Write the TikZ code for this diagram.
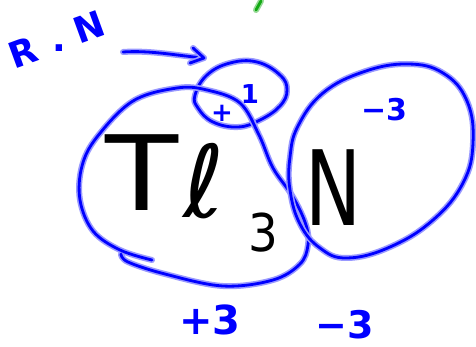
\documentclass[tikz,border=0pt]{standalone}
\usepackage{fontspec}
\setmainfont{DejaVu Sans}
\definecolor{inkblue}{RGB}{0,0,255}
\definecolor{inkgreen}{RGB}{20,170,20}
\begin{document}
\begin{tikzpicture}[x=1pt,y=-1pt,
  ink/.style={draw=inkblue, line width=2.8pt, line cap=round, line join=round,
    preaction={draw=inkblue!40, line width=6pt, line cap=round, line join=round}},
  greenink/.style={draw=inkgreen, line width=2.8pt, line cap=round,
    preaction={draw=inkgreen!45, line width=6pt, line cap=round}},
  bluelabel/.style={text=inkblue, inner sep=0pt, font=\bfseries\fontsize{#1}{#1}\selectfont},
  bigtext/.style={text=black, inner sep=0pt, font=\fontsize{#1}{#1}\selectfont}]
\useasboundingbox (0,0) rectangle (476,347);
\fill[white] (0,0) rectangle (476,347);

% green tick at the top
\coordinate (g1) at (261,1);
\coordinate (g2) at (256,10);
\draw[greenink] (g1) -- (g2);

% label R.N
\node[bluelabel=36, rotate=20] (rnR) at (23,52) {R};
\node[bluelabel=36] (rnDot) at (59,48) {.};
\node[bluelabel=36, rotate=20] (rnN) at (89,27) {N};

% small ellipse around +1
\draw[ink] plot[smooth cycle, tension=0.7] coordinates {
  (195,95) (207,75) (230,63) (257,62) (280,75) (287,90) (280,106)
  (260,120) (238,127) (213,122) (198,108)};
\node[bluelabel=26] (plus) at (222,113) {+};
\node[bluelabel=26] (one) at (250,94) {1};

% arrow from R.N to the small ellipse
\coordinate (arrS) at (123,52);
\coordinate (arrE) at (204,58);
\draw[ink] (arrS) .. controls (150,50) and (180,56) .. (arrE);
\draw[ink] ([shift={(-11,-10)}]arrE) -- (arrE) -- ([shift={(-14,5)}]arrE);

% big loop around Tl3
\draw[ink] plot[smooth, tension=0.6] coordinates {
  (152,260) (120,250) (93,231) (80,200) (82,166) (97,137) (133,101) (177,88)
  (207,90) (240,103) (259,135) (273,168) (293,197) (306,225) (308,245)
  (300,264) (273,280) (223,286) (165,274) (128,262) (121,254)};

% right ellipse around N
\draw[ink] plot[smooth cycle, tension=0.7] coordinates {
  (290,157) (298,126) (323,93) (363,72) (407,64) (443,73) (467,101)
  (473,143) (463,183) (433,220) (390,247) (347,258) (320,248) (300,224) (290,190)};

% formula
\node[bigtext=104, xscale=1.15] (T) at (142,173) {T};
\node[bigtext=100] (ell) at (204,181) {ℓ};
\node[bigtext=52, xscale=0.9] (sub3) at (263,233) {3};
\node[bigtext=104, xscale=0.72] (N) at (334,188) {N};

% oxidation states
\node[bluelabel=30] (m3a) at (384,110) {−3};
\node[bluelabel=40] (p3) at (210,320) {+3};
\node[bluelabel=38] (m3b) at (345,325) {−3};
\end{tikzpicture}
\end{document}
